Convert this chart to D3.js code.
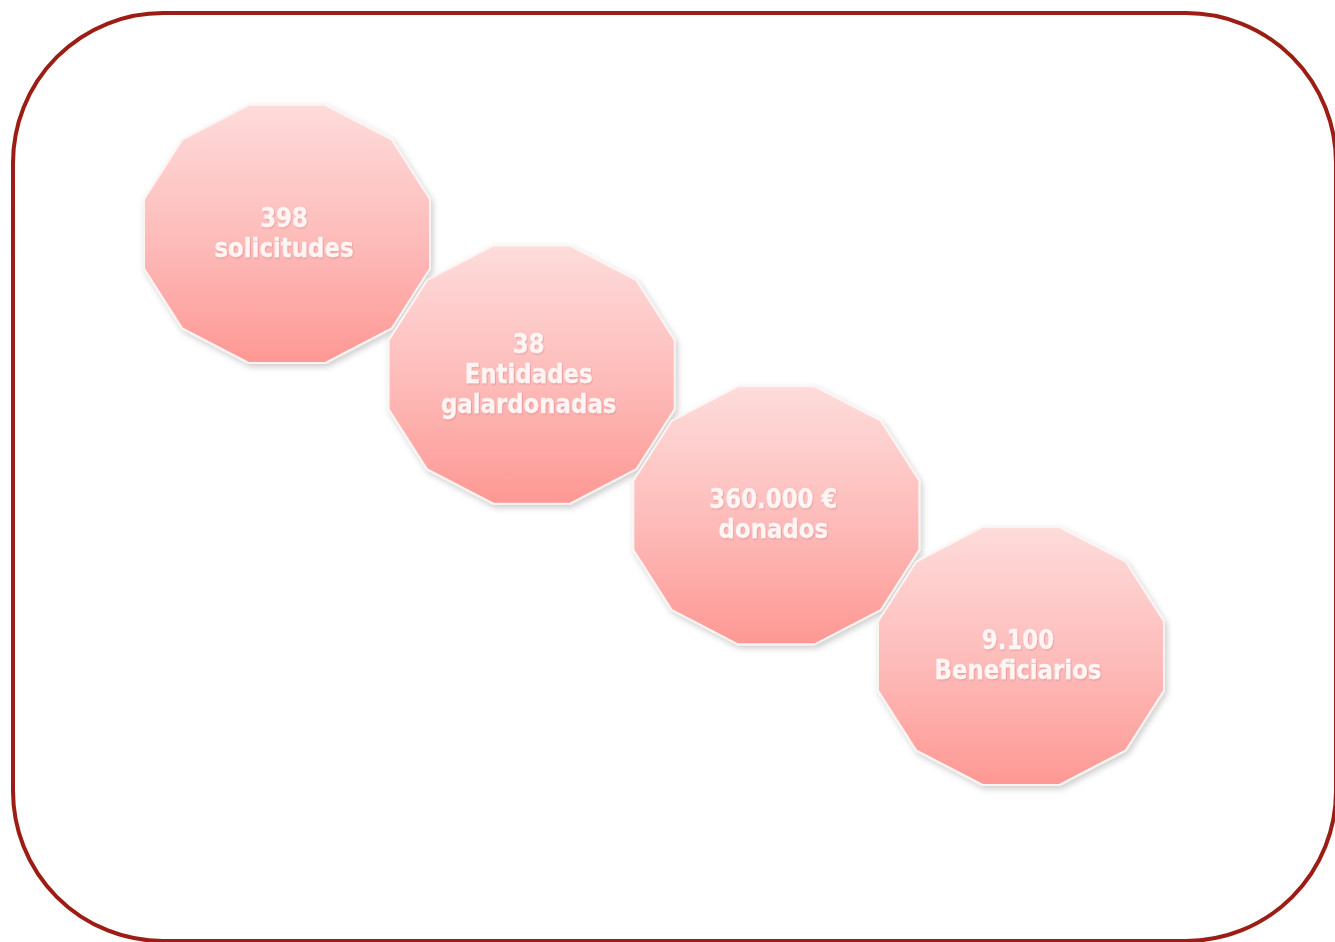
<!DOCTYPE html>
<html>
<head>
<meta charset="utf-8">
<script src="https://cdn.jsdelivr.net/npm/d3@7"></script>
<style>
  html, body { margin:0; padding:0; background:#fff; }
  #sketch1 { width:1335px; height:942px; overflow:hidden; }
  .label { font-family:"DejaVu Sans", Verdana, sans-serif; font-weight:bold; font-size:26px; fill:#fff5f4; stroke:#fff5f4; stroke-width:0.3; }
</style>
</head>
<body>
<div id="sketch1"></div>
<script>
// data
var steps = ["solicitudes", "entidades", "donados", "beneficiarios"];
var values = ["398", "38", "360.000 €", "9.100"];
var captions = [["solicitudes"], ["Entidades", "galardonadas"], ["donados"], ["Beneficiarios"]];

var width = 1335, height = 942;

var svg = d3.select('#sketch1')
    .append('svg')
    .attr('width', width)
    .attr('height', height);

var defs = svg.append('defs');

var grad = defs.append('linearGradient')
    .attr('id', 'pinkGrad')
    .attr('x1', 0).attr('y1', 0).attr('x2', 0).attr('y2', 1);
grad.append('stop').attr('offset', '0%').attr('stop-color', '#fddcdb');
grad.append('stop').attr('offset', '55%').attr('stop-color', '#fdbab8');
grad.append('stop').attr('offset', '100%').attr('stop-color', '#fe9894');

var shadow = defs.append('filter')
    .attr('id', 'shadow')
    .attr('x', '-20%').attr('y', '-20%').attr('width', '140%').attr('height', '140%');
shadow.append('feDropShadow')
    .attr('dx', 2).attr('dy', 3).attr('stdDeviation', 3)
    .attr('flood-color', '#000').attr('flood-opacity', 0.2);

var txtShadow = defs.append('filter').attr('id', 'txtShadow');
txtShadow.append('feDropShadow')
    .attr('dx', 1).attr('dy', 1).attr('stdDeviation', 0.8)
    .attr('flood-color', '#b05050').attr('flood-opacity', 0.3);

// frame (right and bottom edges run to the page border)
svg.append('rect')
    .attr('x', 13).attr('y', 13)
    .attr('width', 1323).attr('height', 928)
    .attr('rx', 150).attr('ry', 150)
    .attr('fill', 'none')
    .attr('stroke', '#9c1d14')
    .attr('stroke-width', 4);

// scales for positions of the steps
var scaleX = d3.scalePoint().domain(steps).range([287, 1021]);
var scaleY = d3.scalePoint().domain(steps).range([234, 656]);

// dodecagon shape: apothem ax horizontal, ay vertical
var ax = 143, ay = 129;
var angles = d3.range(12).map(function(k){ return (15 + 30 * k) * Math.PI / 180; });
var line = d3.line()
    .x(function(a){ return ax / Math.cos(Math.PI / 12) * Math.cos(a); })
    .y(function(a){ return -ay / Math.cos(Math.PI / 12) * Math.sin(a); })
    .curve(d3.curveLinearClosed);

var g = svg.selectAll('.step')
    .data(steps)
    .enter()
    .append('g')
    .attr('class', 'step')
    .attr('transform', function(d){ return 'translate(' + scaleX(d) + ',' + scaleY(d) + ')'; });

g.append('path')
    .attr('d', line(angles))
    .attr('fill', 'url(#pinkGrad)')
    .attr('stroke', '#fdf4f2')
    .attr('stroke-width', 2)
    .attr('filter', 'url(#shadow)');

// Tahoma-like narrow bold: squeeze DejaVu a bit
g.append('text')
    .attr('class', 'label')
    .attr('text-anchor', 'middle')
    .attr('transform', 'translate(-3,0) scale(0.88,1)')
    .attr('filter', 'url(#txtShadow)')
    .each(function(d, i){
        var lines = [values[i]].concat(captions[i]);
        var lh = 30;
        var y0 = -(lines.length - 1) * lh / 2 + 8;
        var t = d3.select(this);
        lines.forEach(function(l, j){
            t.append('tspan')
                .attr('x', 0)
                .attr('y', y0 + j * lh)
                .text(l);
        });
    });
</script>
</body>
</html>
